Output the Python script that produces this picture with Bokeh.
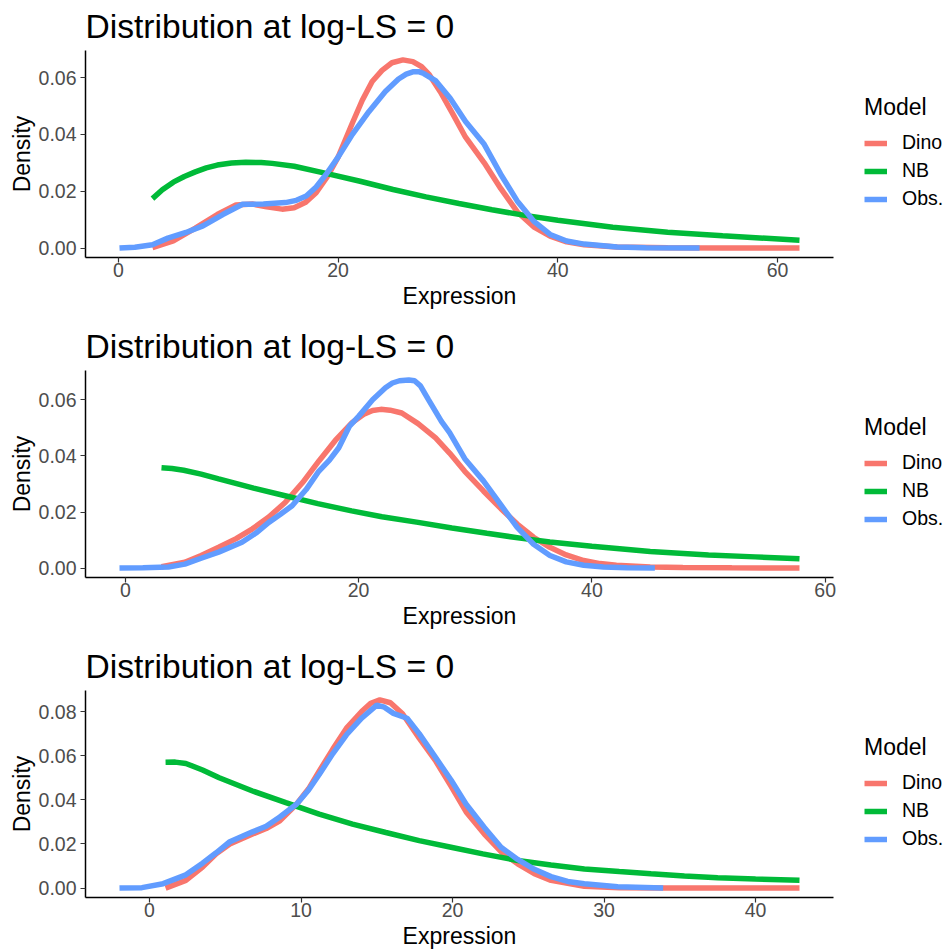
from bokeh.plotting import figure
from bokeh.models import Range1d, FixedTicker, Legend, LegendItem, NumeralTickFormatter, Title
from bokeh.layouts import column
from bokeh.embed import file_html
from bokeh.resources import INLINE

# ---------------- data ----------------
TITLE = "Distribution at log-LS = 0"
XLABEL = "Expression"
YLABEL = "Density"
MODELS = ["Dino", "NB", "Obs."]
COLORS = {"Dino": "#F8766D", "NB": "#00BA38", "Obs.": "#619CFF"}

# Panel 1
p1_dino_x = [3.1, 5, 7, 9, 10.7, 12.2, 13.5, 14.9, 16, 17, 18, 19, 20, 21.3, 22.2, 23.1, 24, 24.9, 25.9,
             26.8, 27.6, 28.3, 29.3, 30.4, 31.6, 33.3, 34.8, 36.3, 37.8, 39.3, 40.8, 42.4, 45.4, 50, 55, 62]
p1_dino_y = [0.0002, 0.0025, 0.0070, 0.0118, 0.0152, 0.0155, 0.0145, 0.0137, 0.0142, 0.0160, 0.0195,
             0.0250, 0.0320, 0.0440, 0.0520, 0.0586, 0.0625, 0.0652, 0.0662, 0.0656, 0.0638, 0.0610,
             0.0550, 0.0475, 0.0390, 0.0300, 0.0210, 0.0128, 0.0075, 0.0042, 0.0022, 0.0012, 0.0004,
             0.0001, 0.0, 0.0]
p1_nb_x = [3.1, 4, 5, 6, 7, 8, 9, 10.3, 11.6, 13, 14, 16, 19, 22, 25, 28, 31, 34, 37, 40, 45, 50, 55, 62]
p1_nb_y = [0.0174, 0.0205, 0.0232, 0.0252, 0.0268, 0.0282, 0.0292, 0.0299, 0.0302, 0.0301, 0.0298,
           0.0288, 0.0262, 0.0235, 0.0206, 0.0180, 0.0157, 0.0135, 0.0115, 0.0098, 0.0073, 0.0056,
           0.0043, 0.0028]
p1_obs_x = [0.1, 1.5, 3.1, 4.5, 6.15, 7.7, 9.5, 11.3, 13.2, 15.2, 16.2, 17.1, 18, 18.9, 20, 21.3, 22.8,
            24.3, 25.5, 26.2, 26.8, 27.4, 27.8, 28.9, 30.2, 31.6, 33.3, 34.8, 36.3, 37.8, 39.3, 40.8,
            42.4, 45.4, 48, 52.9]
p1_obs_y = [0.0, 0.0003, 0.0012, 0.0035, 0.0055, 0.0078, 0.0118, 0.0154, 0.0155, 0.0160, 0.0168, 0.0183,
            0.0215, 0.0259, 0.0320, 0.0400, 0.0480, 0.0551, 0.0595, 0.0612, 0.0620, 0.0620, 0.0614,
            0.0588, 0.0527, 0.0445, 0.0365, 0.0260, 0.0166, 0.0095, 0.0048, 0.0025, 0.0014, 0.0004,
            0.0001, 0.0]
p1_xticks = [0, 20, 40, 60]
p1_yticks = [0.0, 0.02, 0.04, 0.06]

# Panel 2
p2_dino_x = [3.1, 5.1, 6.5, 8, 9.5, 10.9, 12.3, 13.7, 15.2, 16.6, 18, 19.4, 20.5, 21.2, 21.9, 22.7, 23.7,
             25.1, 26.6, 27.8, 29.1, 30.7, 32.2, 33.6, 35, 36.4, 37.8, 39.3, 40.7, 42.1, 45, 47.8, 52, 57.8]
p2_dino_y = [0.0005, 0.0021, 0.0045, 0.0074, 0.0105, 0.0140, 0.0182, 0.0234, 0.0305, 0.0382, 0.0455,
             0.0517, 0.0550, 0.0562, 0.0566, 0.0563, 0.0553, 0.0515, 0.0464, 0.0410, 0.0345, 0.0275,
             0.0212, 0.0157, 0.0110, 0.0074, 0.0047, 0.0027, 0.0016, 0.0010, 0.0004, 0.0002, 0.0001, 0.0]
p2_nb_x = [3.1, 4, 5, 6.5, 8, 11, 13.7, 16.5, 19.4, 22, 25.1, 28, 31, 34, 36.4, 40, 45, 50, 54, 57.8]
p2_nb_y = [0.0358, 0.0355, 0.0349, 0.0335, 0.0318, 0.0285, 0.0258, 0.0230, 0.0204, 0.0183, 0.0163,
           0.0143, 0.0124, 0.0106, 0.0093, 0.0078, 0.0059, 0.0047, 0.0040, 0.0033]
p2_obs_x = [-0.5, 1.5, 3.7, 5.1, 6.5, 8, 10, 11.2, 12.3, 13.3, 14.3, 15.5, 16.6, 17.5, 18.3, 19.2, 20,
            21.2, 22.3, 22.9, 23.5, 24.3, 24.8, 25.3, 26, 27.1, 27.8, 29.1, 30.7, 32.2, 33.6, 35, 36.4,
            37.8, 39.3, 41, 43, 45.4]
p2_obs_y = [0.0, 0.0001, 0.0004, 0.0014, 0.0035, 0.0057, 0.0092, 0.0125, 0.0163, 0.0192, 0.0222, 0.0280,
            0.0346, 0.0385, 0.0429, 0.0505, 0.0541, 0.0600, 0.0643, 0.0660, 0.0668, 0.0671, 0.0668,
            0.0650, 0.0600, 0.0523, 0.0483, 0.0390, 0.0311, 0.0225, 0.0145, 0.0085, 0.0045, 0.0022,
            0.0010, 0.0004, 0.0001, 0.0]
p2_xticks = [0, 20, 40, 60]
p2_yticks = [0.0, 0.02, 0.04, 0.06]

# Panel 3
p3_dino_x = [1.06, 2.4, 3.5, 4.4, 5.3, 6.8, 7.7, 8.6, 9.7, 10.5, 11.2, 12.1, 13, 14, 14.6, 15.2, 15.9,
             16.7, 17.8, 18.9, 19.9, 20.9, 22.1, 23.2, 24.3, 25.4, 26.5, 28.7, 31, 34, 38, 42.9]
p3_dino_y = [0.0, 0.0035, 0.0095, 0.0155, 0.0200, 0.0245, 0.0270, 0.0305, 0.0380, 0.0450, 0.0530,
             0.0630, 0.0725, 0.0800, 0.0838, 0.0853, 0.0840, 0.0790, 0.0680, 0.0575, 0.0462, 0.0345,
             0.0245, 0.0165, 0.0110, 0.0065, 0.0035, 0.0008, 0.0002, 0.0, 0.0, 0.0]
p3_nb_x = [1.06, 1.7, 2.4, 3.5, 4.6, 6.8, 9, 11.2, 13.4, 15.6, 17.8, 19.9, 22, 24.3, 26.5, 28.7, 31, 33.1,
           35.3, 37.5, 40, 42.9]
p3_nb_y = [0.0570, 0.0571, 0.0565, 0.0535, 0.0500, 0.0440, 0.0387, 0.0335, 0.0290, 0.0252, 0.0215,
           0.0185, 0.0155, 0.0125, 0.0105, 0.0087, 0.0075, 0.0065, 0.0055, 0.0047, 0.0041, 0.0035]
p3_obs_x = [-1.98, -0.5, 0.9, 2.4, 3.5, 4.4, 5.3, 6.8, 7.7, 8.6, 9.7, 10.5, 11.2, 12.1, 13, 14, 15, 15.5,
            16.1, 17, 17.8, 18.9, 19.9, 20.9, 22.1, 23.2, 24.3, 25.4, 26.5, 27.6, 28.7, 30.9, 33.9]
p3_obs_y = [0.0, 0.0002, 0.0020, 0.0060, 0.0113, 0.0160, 0.0210, 0.0255, 0.0280, 0.0322, 0.0380, 0.0445,
            0.0515, 0.0610, 0.0695, 0.0770, 0.0829, 0.0820, 0.0792, 0.0770, 0.0700, 0.0590, 0.0490,
            0.0380, 0.0275, 0.0185, 0.0130, 0.0085, 0.0052, 0.0030, 0.0020, 0.0006, 0.0]
p3_xticks = [0, 10, 20, 30, 40]
p3_yticks = [0.0, 0.02, 0.04, 0.06, 0.08]

FONT = "Liberation Sans"
W = 943
FRAME_LEFT = 85           # left border: frame starts at page x = 85
AXIS_W = 748              # drawn x axis runs from page x 85 to 833
FRAME_W = W - FRAME_LEFT  # the frame continues under the legend
XLABEL_SIZE = 23
XLABEL_W = 4.946 * XLABEL_SIZE   # Liberation Sans advance width of "Expression"


def style_axis(ax):
    ax.axis_line_color = "black"
    ax.axis_line_width = 1.5
    ax.major_tick_line_color = "#333333"
    ax.major_tick_line_width = 1.2
    ax.major_tick_out = 5
    ax.major_tick_in = 0
    ax.minor_tick_out = 0
    ax.minor_tick_in = 0
    ax.major_label_text_font = FONT
    ax.major_label_text_font_size = "19.5px"
    ax.major_label_text_color = "#4D4D4D"
    ax.axis_label_text_font = FONT
    ax.axis_label_text_font_size = "%dpx" % XLABEL_SIZE
    ax.axis_label_text_font_style = "normal"
    ax.axis_label_text_color = "black"


def make_panel(dx, dy, nx, ny, ox, oy, xticks, yticks, height, top, bottom):
    allx = dx + nx + ox
    ally = dy + ny + oy
    xpad = 0.05 * (max(allx) - min(allx))
    ypad = 0.05 * (max(ally) - min(ally))
    xs, xe = min(allx) - xpad, max(allx) + xpad
    x_end_frame = xs + (xe - xs) * FRAME_W / AXIS_W
    p = figure(width=W, height=height, output_backend="svg", toolbar_location=None,
               x_range=Range1d(xs, x_end_frame),
               y_range=Range1d(min(ally) - ypad, max(ally) + ypad),
               min_border_left=FRAME_LEFT, min_border_right=0,
               min_border_top=top, min_border_bottom=bottom)
    p.title.text = TITLE
    p.title.text_font = FONT
    p.title.text_font_size = "33.6px"
    p.title.text_font_style = "normal"
    p.title.text_color = "black"
    p.title.offset = 0
    p.title.vertical_align = "middle"
    p.outline_line_color = None
    p.grid.visible = False
    p.border_fill_color = "white"

    r_d = p.line(dx, dy, line_color=COLORS["Dino"], line_width=5.5)
    r_n = p.line(nx, ny, line_color=COLORS["NB"], line_width=5.5)
    r_o = p.line(ox, oy, line_color=COLORS["Obs."], line_width=5.5)

    style_axis(p.xaxis[0])
    style_axis(p.yaxis[0])
    p.xaxis.bounds = (xs, xe)
    p.xaxis.ticker = FixedTicker(ticks=xticks)
    p.yaxis.ticker = FixedTicker(ticks=yticks)
    p.yaxis.formatter = NumeralTickFormatter(format="0.00")
    p.yaxis.axis_label = YLABEL
    p.xaxis.major_label_standoff = 0
    p.yaxis.major_label_standoff = 4
    p.yaxis.axis_label_standoff = 1

    # x axis title, centred under the drawn axis (not under the whole frame)
    xt = Title(text=XLABEL, align="left", offset=(AXIS_W - XLABEL_W) / 2,
               text_font=FONT, text_font_size="%dpx" % XLABEL_SIZE,
               text_font_style="normal", text_color="black", standoff=2)
    p.add_layout(xt, "below")

    legend = Legend(items=[LegendItem(label=MODELS[0], renderers=[r_d]),
                           LegendItem(label=MODELS[1], renderers=[r_n]),
                           LegendItem(label=MODELS[2], renderers=[r_o])],
                    title="Model", location=(AXIS_W + 31, 47))
    legend.title_text_font = FONT
    legend.title_text_font_size = "23px"
    legend.title_text_font_style = "normal"
    legend.title_text_color = "black"
    legend.title_standoff = 10
    legend.label_text_font = FONT
    legend.label_text_font_size = "19.5px"
    legend.label_text_color = "black"
    legend.glyph_width = 23
    legend.glyph_height = 20
    legend.label_height = 20
    legend.spacing = 5
    legend.label_standoff = 15
    legend.padding = 0
    legend.margin = 0
    legend.border_line_color = None
    legend.background_fill_alpha = 0
    p.add_layout(legend, "center")
    return p


p1 = make_panel(p1_dino_x, p1_dino_y, p1_nb_x, p1_nb_y, p1_obs_x, p1_obs_y, p1_xticks, p1_yticks,
                320, 50, 63)
p2 = make_panel(p2_dino_x, p2_dino_y, p2_nb_x, p2_nb_y, p2_obs_x, p2_obs_y, p2_xticks, p2_yticks,
                320, 50, 63)
p3 = make_panel(p3_dino_x, p3_dino_y, p3_nb_x, p3_nb_y, p3_obs_x, p3_obs_y, p3_xticks, p3_yticks,
                311, 50, 54)

layout = column(p1, p2, p3, spacing=0)
open("out.html", "w").write(file_html(layout, INLINE))
